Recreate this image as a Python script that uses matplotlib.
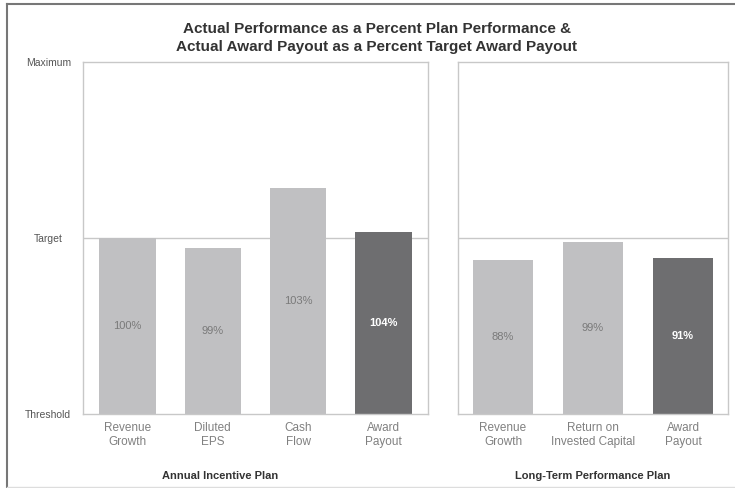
import matplotlib.pyplot as plt
from matplotlib.lines import Line2D

plt.rcParams["font.family"] = ["Liberation Sans", "DejaVu Sans"]

# scale: 0 = Threshold, 1 = Target, 2 = Maximum
level_ticks = [0, 1, 2]
level_labels = ["Threshold", "Target", "Maximum"]

aip_categories = ["Revenue\nGrowth", "Diluted\nEPS", "Cash\nFlow", "Award\nPayout"]
aip_heights = [1.0, 0.945, 1.284, 1.034]
aip_labels = ["100%", "99%", "103%", "104%"]
aip_is_payout = [False, False, False, True]

ltpp_categories = ["Revenue\nGrowth", "Return on\nInvested Capital", "Award\nPayout"]
ltpp_heights = [0.875, 0.977, 0.886]
ltpp_labels = ["88%", "99%", "91%"]
ltpp_is_payout = [False, False, True]

LIGHT = "#c0c0c2"
DARK = "#6e6e70"
FRAME = "#c8c8c8"

W, H = 735, 488
fig = plt.figure(figsize=(W / 100, H / 100), dpi=100)


def px_box(x0, y0, x1, y1):
    return [x0 / W, 1 - y1 / H, (x1 - x0) / W, (y1 - y0) / H]


def draw_panel(ax, cats, heights, labels, payout, width, xpad, show_levels):
    x = list(range(len(cats)))
    colors = [DARK if p else LIGHT for p in payout]
    ax.axhline(1, color=FRAME, lw=1.0, zorder=1)
    ax.bar(x, heights, width=width, color=colors, zorder=2)
    for xi, h, lab, p in zip(x, heights, labels, payout):
        ax.text(xi, h / 2, lab, ha="center", va="center", fontsize=8,
                color="white" if p else "#7a7a7a",
                fontweight="bold" if p else "normal", zorder=3)
    ax.set_xlim(-xpad, len(cats) - 1 + xpad)
    ax.set_ylim(0, 2)
    ax.set_xticks(x, cats)
    ax.tick_params(axis="x", length=0, pad=6, labelsize=8.5, labelcolor="#808080")
    for t in ax.get_xticklabels():
        t.set_linespacing(1.15)
    if show_levels:
        ax.set_yticks(level_ticks, level_labels)
        ax.tick_params(axis="y", length=0, pad=25, labelsize=7.5, labelcolor="#555555")
        for t in ax.get_yticklabels():
            t.set_horizontalalignment("center")
    else:
        ax.set_yticks([])
    for s in ax.spines.values():
        s.set_color(FRAME)
        s.set_linewidth(1.0)


ax1 = fig.add_axes(px_box(83, 62, 428, 414))
draw_panel(ax1, aip_categories, aip_heights, aip_labels, aip_is_payout, 0.66, 0.52, True)

ax2 = fig.add_axes(px_box(458, 62, 728, 414))
draw_panel(ax2, ltpp_categories, ltpp_heights, ltpp_labels, ltpp_is_payout, 0.667, 0.5, False)

fig.text(377 / W, 1 - 29 / H, "Actual Performance as a Percent Plan Performance &",
         ha="center", va="center", fontsize=11, fontweight="bold", color="#333333")
fig.text(377 / W, 1 - 47 / H, "Actual Award Payout as a Percent Target Award Payout",
         ha="center", va="center", fontsize=11, fontweight="bold", color="#333333")

fig.text(220 / W, 1 - 476 / H, "Annual Incentive Plan", ha="center", va="center",
         fontsize=8, fontweight="bold", color="#333333")
fig.text(593 / W, 1 - 476 / H, "Long-Term Performance Plan", ha="center", va="center",
         fontsize=8, fontweight="bold", color="#333333")

# outer frame (left and top edges dark, bottom faint)
fig.add_artist(Line2D([7 / W, 7 / W], [0, 1 - 4 / H], transform=fig.transFigure,
                      color="#777777", lw=1.5))
fig.add_artist(Line2D([7 / W, 1], [1 - 4 / H, 1 - 4 / H], transform=fig.transFigure,
                      color="#777777", lw=1.5))
fig.add_artist(Line2D([7 / W, 1], [1 - 487 / H, 1 - 487 / H], transform=fig.transFigure,
                      color="#dddddd", lw=1.0))

fig.savefig("out.png", dpi=100)
